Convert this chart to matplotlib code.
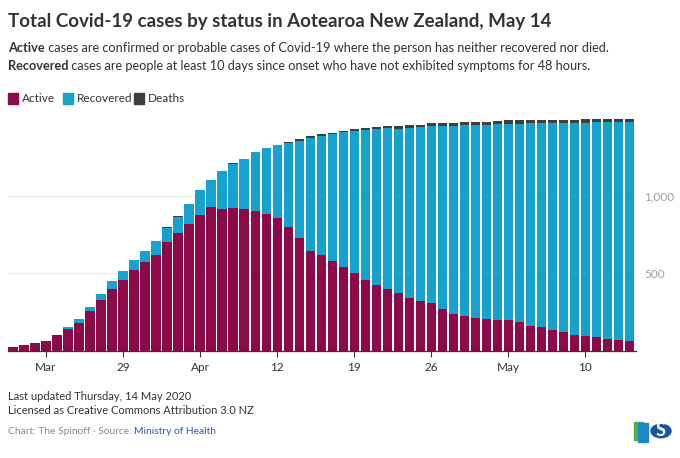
import matplotlib
matplotlib.use("Agg")
import matplotlib.pyplot as plt
from matplotlib.patches import Rectangle, Circle
import numpy as np

plt.rcParams['font.family'] = ['Lato', 'DejaVu Sans']

# Daily totals, 19 March to 14 May 2020
active = [28, 39, 52, 66, 102, 143, 183, 256, 331, 401,
          457, 521, 571, 622, 702, 760, 818, 878, 926, 915,
          921, 917, 906, 885, 855, 797, 728, 648, 620, 579,
          545, 506, 455, 424, 401, 371, 343, 323, 310, 269,
          237, 224, 216, 205, 201, 201, 190, 164, 152, 136,
          123, 102, 98, 89, 78, 74, 65]
recovered = [0, 0, 0, 0, 0, 12, 22, 27, 37, 50,
             56, 67, 75, 85, 94, 107, 131, 160, 179, 244,
             288, 321, 375, 423, 471, 547, 629, 729, 770, 819,
             865, 913, 972, 1008, 1036, 1064, 1096, 1120, 1142, 1181,
             1216, 1231, 1241, 1255, 1264, 1266, 1277, 1305, 1316, 1332,
             1346, 1369, 1375, 1387, 1398, 1402, 1411]
deaths = [0, 0, 0, 0, 0, 0, 0, 0, 0, 0,
          1, 1, 1, 1, 1, 1, 1, 1, 1, 1,
          1, 1, 2, 4, 4, 5, 9, 9, 11, 11,
          12, 12, 13, 13, 14, 16, 17, 18, 18, 19,
          19, 19, 19, 19, 20, 20, 20, 20, 20, 21,
          21, 21, 21, 21, 21, 21, 21]
tick_days = [3, 10, 17, 24, 31, 38, 45, 52]
tick_labels = ["Mar", "29", "Apr", "12", "19", "26", "May", "10"]
y_ticks = [500, 1000]
y_labels = ["500", "1,000"]

c_active = "#8c0a47"
c_rec = "#17a1ce"
c_death = "#3e3e3e"
dark = "#333333"

fig = plt.figure(figsize=(6.8, 4.58), dpi=100)
ax = fig.add_axes([8 / 680, 1 - 351 / 458, 628 / 680, 233 / 458])

x = np.arange(len(active))
a = np.array(active)
r = np.array(recovered)
d = np.array(deaths)
w = 0.84
ax.bar(x, a, width=w, color=c_active, linewidth=0)
ax.bar(x, r, width=w, bottom=a, color=c_rec, linewidth=0)
ax.bar(x, d, width=w, bottom=a + r, color=c_death, linewidth=0)

ax.set_xlim(-0.45, 56.6)
ax.set_ylim(0, 1503)
ax.set_yticks(y_ticks)
ax.set_yticklabels(y_labels)
ax.yaxis.tick_right()
ax.tick_params(axis="y", length=0, pad=6, labelsize=8.5, labelcolor="#a0a0a0")
ax.grid(axis="y", color="#ececec", linewidth=0.8)
ax.set_axisbelow(True)
ax.set_xticks(tick_days)
ax.set_xticklabels(tick_labels)
ax.tick_params(axis="x", length=4, width=0.8, color=dark, pad=4,
               labelsize=8.5, labelcolor=dark)
for s in ["top", "left", "right"]:
    ax.spines[s].set_visible(False)
ax.spines["bottom"].set_color(dark)
ax.spines["bottom"].set_linewidth(0.9)

# header
fig.text(8 / 680, 1 - 22 / 458, "Total Covid-19 cases by status in Aotearoa New Zealand, May 14",
         fontsize=13.5, fontweight="bold", color=dark, va="center")

fig.canvas.draw()
renderer = fig.canvas.get_renderer()


def rich_line(y, parts, size=9.2):
    xpos = 8 / 680
    for txt, weight in parts:
        t = fig.text(xpos, y, txt, fontsize=size, fontweight=weight, color=dark, va="center")
        bb = t.get_window_extent(renderer=renderer)
        xpos = bb.x1 / fig.bbox.width


rich_line(1 - 48 / 458, [("Active", "bold"),
                         (" cases are confirmed or probable cases of Covid-19 where the person has neither recovered nor died.", "normal")])
rich_line(1 - 66 / 458, [("Recovered", "bold"),
                         (" cases are people at least 10 days since onset who have not exhibited symptoms for 48 hours.", "normal")])

# legend
leg = [("Active", c_active, 8), ("Recovered", c_rec, 63), ("Deaths", c_death, 134)]
for name, col, px in leg:
    fig.patches.append(Rectangle((px / 680, 1 - 104 / 458), 10 / 680, 11 / 458,
                                 transform=fig.transFigure, color=col))
    fig.text((px + 14) / 680, 1 - 98 / 458, name, fontsize=8.5, color=dark, va="center")

# footer
fig.text(8 / 680, 1 - 396 / 458, "Last updated Thursday, 14 May 2020", fontsize=8, color=dark, va="center")
fig.text(8 / 680, 1 - 411 / 458, "Licensed as Creative Commons Attribution 3.0 NZ", fontsize=8, color=dark, va="center")
t = fig.text(8 / 680, 1 - 432 / 458, "Chart: The Spinoff · Source: ", fontsize=7.4, color="#8a8a8a", va="center")
bb = t.get_window_extent(renderer=renderer)
fig.text(bb.x1 / fig.bbox.width, 1 - 432 / 458, "Ministry of Health", fontsize=7.4, color="#2a5aa8", va="center")

# logos
fig.patches.append(Rectangle((634 / 680, 1 - 440 / 458), 9 / 680, 18 / 458,
                             transform=fig.transFigure, color="#4caf50"))
fig.patches.append(Rectangle((638 / 680, 1 - 442 / 458), 10 / 680, 19 / 458,
                             transform=fig.transFigure, color="#1e88c8"))
fig.patches.append(Circle((661 / 680, 1 - 431 / 458), 0.0147, transform=fig.transFigure,
                          color="#1a55a0"))
fig.text(661 / 680, 1 - 431 / 458, "S", fontsize=13, fontweight="bold", color="white",
         ha="center", va="center")

fig.savefig("out.png", dpi=100)
